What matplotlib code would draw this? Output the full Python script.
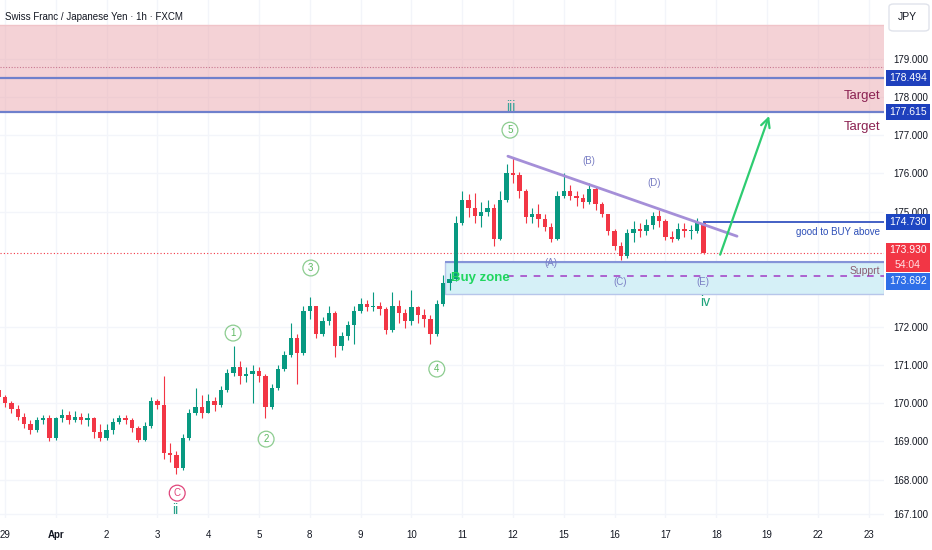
import matplotlib
matplotlib.use("Agg")
import matplotlib.pyplot as plt
import matplotlib.transforms as mtransforms
from matplotlib.patches import Rectangle, FancyBboxPatch
import numpy as np

plt.rcParams['font.family'] = ['Liberation Sans', 'DejaVu Sans']

### DATA ###
day_labels = ["29", "Apr", "2", "3", "4", "5", "8", "9", "10", "11", "12",
              "15", "16", "17", "18", "19", "22", "23"]
price_ticks = [167.1, 168, 169, 170, 171, 172, 175, 176, 177, 178, 179]

# 3-hour bars, x in trading days from Mar 29
bar_step = 0.125
start_day = -0.125
first_open = 170.35
closes = [170.15, 170.00, 169.85, 169.65, 169.45, 169.30, 169.55, 169.60, 169.10, 169.60,
          169.70, 169.55, 169.65, 169.55, 169.60, 169.25, 169.10, 169.30, 169.50, 169.60,
          169.55, 169.35, 169.05, 169.40, 170.05, 169.95, 168.70, 168.65, 168.30, 169.10,
          169.75, 169.90, 169.75, 170.05, 169.95, 170.35, 170.80, 170.95, 170.70, 170.75,
          170.85, 170.70, 169.90, 170.40, 170.90, 171.25, 171.70, 171.30, 172.40, 172.55,
          171.80, 172.15, 172.35, 171.50, 171.75, 172.05, 172.40, 172.60, 172.50, 172.55,
          172.45, 171.90, 172.55, 172.35, 172.15, 172.50, 172.30, 172.20, 171.80, 172.60,
          173.15, 173.25, 174.70, 175.30, 175.10, 174.90, 175.00, 175.10, 174.30, 175.30,
          176.00, 175.95, 175.55, 174.85, 174.95, 174.80, 174.60, 174.30, 175.40, 175.55,
          175.40, 175.35, 175.25, 175.60, 175.20, 174.95, 174.50, 174.10, 173.85, 174.45,
          174.55, 174.50, 174.65, 174.90, 174.75, 174.35, 174.30, 174.55, 174.50, 174.50,
          174.70, 173.93]
highs = [170.40, 170.20, 170.05, 169.95, 169.75, 169.55, 169.65, 169.70, 169.70, 169.65,
         169.85, 169.80, 169.80, 169.75, 169.75, 169.65, 169.45, 169.45, 169.60, 169.70,
         169.68, 169.62, 169.40, 169.50, 170.15, 170.10, 170.70, 168.95, 168.75, 169.20,
         169.85, 170.40, 170.20, 170.25, 170.15, 170.45, 170.90, 171.50, 171.10, 170.95,
         171.00, 170.95, 170.75, 170.50, 171.00, 171.35, 172.10, 171.80, 172.55, 172.78,
         172.55, 172.25, 172.55, 172.40, 171.85, 172.15, 172.55, 172.75, 172.70, 172.90,
         172.65, 172.50, 172.90, 172.70, 172.45, 172.95, 172.55, 172.45, 172.30, 172.70,
         173.35, 173.40, 174.90, 175.55, 175.45, 175.50, 175.25, 175.30, 175.20, 175.55,
         176.25, 176.43, 176.05, 175.60, 175.10, 175.20, 174.95, 174.70, 175.55, 176.00,
         175.70, 175.55, 175.45, 175.75, 175.65, 175.25, 174.95, 174.55, 174.20, 174.55,
         174.75, 174.70, 174.80, 175.00, 175.05, 174.80, 174.50, 174.70, 174.70, 174.65,
         174.84, 174.75]
lows = [170.05, 169.90, 169.75, 169.55, 169.35, 169.20, 169.25, 169.45, 169.00, 169.05,
        169.50, 169.45, 169.50, 169.45, 169.40, 169.10, 169.00, 169.05, 169.20, 169.45,
        169.45, 169.25, 168.98, 169.00, 169.35, 169.85, 168.55, 168.45, 168.15, 168.25,
        169.05, 169.70, 169.60, 169.75, 169.80, 169.90, 170.30, 170.70, 170.50, 170.55,
        170.00, 170.55, 169.62, 169.85, 170.35, 170.85, 171.20, 170.50, 171.25, 172.20,
        171.70, 171.75, 172.05, 171.20, 171.40, 171.65, 171.55, 172.35, 172.40, 172.40,
        172.30, 171.80, 171.85, 172.10, 171.95, 172.05, 172.10, 172.00, 171.55, 171.75,
        172.55, 172.95, 173.20, 174.65, 174.85, 174.70, 174.60, 174.90, 174.10, 174.25,
        175.25, 175.75, 175.35, 174.70, 174.70, 174.60, 174.50, 174.20, 174.25, 175.35,
        175.30, 175.15, 175.10, 175.20, 175.05, 174.85, 174.40, 174.00, 173.75, 173.80,
        174.20, 174.35, 174.40, 174.55, 174.60, 174.25, 174.20, 174.25, 174.35, 174.30,
        174.45, 173.90]

target_levels = [178.494, 177.615]
sell_zone = (177.615, 179.87)
sell_zone_mid = 178.78
buy_level = 174.730
last_price = 173.930
countdown = "54:04"
buy_zone = (172.85, 173.692)
support_level = 173.32
trend_line = ([9.90, 14.41], [176.45, 174.36])
arrow_from = (14.06, 173.81)
arrow_to = (15.06, 177.57)

wave_circles = [("1", 4.49, 171.83), ("2", 5.14, 169.06), ("3", 6.02, 173.53),
                ("4", 8.50, 170.89), ("5", 9.94, 177.13)]
abc_labels = [("(A)", 10.75, 173.66), ("(B)", 11.50, 176.32), ("(C)", 12.11, 173.16),
              ("(D)", 12.78, 175.75), ("(E)", 13.74, 173.16)]

### COLORS ###
up_col = '#089981'
down_col = '#f23645'
grid_col = '#f3f5fa'
text_col = '#131722'

fig = plt.figure(figsize=(9.32, 5.5), dpi=100)
ax = fig.add_axes([0, 32 / 550, 884 / 932, 518 / 550])
x_right = 879 / 50.8
ax.set_xlim(-5 / 50.8, x_right)
ax.set_ylim(167.0, 180.53)
for s in ax.spines.values():
    s.set_visible(False)

# grid / axes
ax.set_xticks(range(len(day_labels)))
ax.set_xticklabels(day_labels)
ax.set_yticks(price_ticks)
ax.set_yticklabels(["%.3f" % p for p in price_ticks])
ax.yaxis.tick_right()
ax.grid(True, color=grid_col, lw=1, zorder=0)
ax.set_axisbelow(True)
ax.tick_params(axis='both', length=0, colors=text_col, labelsize=7)
ax.tick_params(axis='y', pad=7)
ax.tick_params(axis='x', pad=9)
for lab in ax.get_xticklabels():
    if lab.get_text() == "Apr":
        lab.set_fontweight('bold')

# sell / target zone
ax.axhspan(sell_zone[0], sell_zone[1], color='#eba6ae', alpha=0.5, lw=0, zorder=1)
ax.axhline(sell_zone[1], color='#f0c4c9', lw=1, zorder=1)
ax.axhline(sell_zone_mid, color='#c87890', ls=(0, (1, 1.5)), lw=0.8, zorder=2)
for lvl in target_levels:
    ax.axhline(lvl, color='#6f80cc', lw=1.6, zorder=5)
ax.text(17.23, 178.02, "Target", color='#8b2252', fontsize=9.5, ha='right', va='center', zorder=6)
ax.text(17.23, 177.21, "Target", color='#8b2252', fontsize=9.5, ha='right', va='center', zorder=6)

# buy zone
bz = Rectangle((8.66, buy_zone[0]), x_right - 8.66, buy_zone[1] - buy_zone[0],
               fc='#d5f0f7', ec='#b7c6ea', lw=1, zorder=1.5)
ax.add_patch(bz)
ax.hlines(buy_zone[1], 8.66, x_right, color='#8594d8', lw=1.5, zorder=2)
ax.hlines(support_level, 9.88, x_right, color='#a64ac9', ls=(0, (4, 4)), lw=1.2, zorder=2)
ax.text(8.78, 173.27, "Buy zone", color='#1fd65f', fontsize=9.5, fontweight='bold',
        ha='left', va='center', zorder=6)
ax.text(17.225, 173.45, "Supprt", color='#8a5c70', fontsize=7.5, ha='right', va='center', zorder=6)

# last price and buy trigger
ax.axhline(last_price, color=down_col, ls=(0, (1, 2)), lw=0.8, zorder=2)
ax.hlines(buy_level, 13.74, x_right, color='#3554c0', lw=1.3, zorder=5)
ax.text(17.225, 174.47, "good to BUY above", color='#2d4fb8', fontsize=7,
        ha='right', va='center', zorder=6)

# candles
c = np.array(closes)
o = np.array([first_open] + closes[:-1])
h = np.array(highs)
l = np.array(lows)
t = start_day + bar_step * np.arange(len(c))
cols = np.where(c >= o, up_col, down_col)
ax.vlines(t, l, h, colors=cols, lw=0.8, zorder=3)
body = np.maximum(np.abs(c - o), 0.03)
ax.bar(t, body, bottom=np.minimum(o, c), width=0.085, color=cols, lw=0, zorder=4)

# triangle upper line and projection arrow
ax.plot(trend_line[0], trend_line[1], color='#a58fd8', lw=2, zorder=5, solid_capstyle='round')
ax.annotate('', xy=arrow_to, xytext=arrow_from,
            arrowprops=dict(arrowstyle='->', color='#2ecc71', lw=1.6, mutation_scale=16),
            zorder=6)

# wave labels
for txt, x, y in wave_circles:
    ax.text(x, y, txt, color='#5cb860', fontsize=7, ha='center', va='center', zorder=6,
            bbox=dict(boxstyle='circle,pad=0.3', fc='none', ec='#8ccc8f', lw=0.9))
ax.text(3.39, 167.65, "C", color='#e0457b', fontsize=7, ha='center', va='center', zorder=6,
        bbox=dict(boxstyle='circle,pad=0.3', fc='none', ec='#e0457b', lw=0.9))
ax.text(3.35, 167.21, "ii", color='#2aa189', fontsize=10, ha='center', va='center', zorder=6)
ax.text(9.96, 177.73, "iii", color='#3aa39a', fontsize=10, ha='center', va='center', zorder=6)
ax.text(13.78, 172.64, "iv", color='#1ea37a', fontsize=10, ha='center', va='center', zorder=6)
for txt, x, y in abc_labels:
    ax.text(x, y, txt, color='#7a7fc4', fontsize=7, ha='center', va='center', zorder=6)

# price-scale badges
btrans = mtransforms.blended_transform_factory(ax.transAxes, ax.transData)
px = 38.29  # pixels per yen


def badge(center, lines, fc, hpx=16):
    x0 = 886 / 884
    w = 44 / 884
    hh = hpx / px
    ax.add_patch(Rectangle((x0, center - hh / 2), w, hh, transform=btrans, fc=fc, ec='none',
                           clip_on=False, zorder=20))
    n = len(lines)
    for i, (s, col) in enumerate(lines):
        yy = center + hh / 2 - (i + 0.5) * hh / n
        ax.text(x0 + w / 2, yy, s, transform=btrans, color=col, fontsize=7.5, ha='center',
                va='center', clip_on=False, zorder=21)


badge(target_levels[0], [("%.3f" % target_levels[0], 'white')], '#1e40bd')
badge(target_levels[1], [("%.3f" % target_levels[1], 'white')], '#1e40bd')
badge(buy_level, [("%.3f" % buy_level, 'white')], '#1d46c2')
badge(173.80, [("%.3f" % last_price, 'white'), (countdown, '#ffe0e3')], down_col, hpx=29)
badge(173.18, [("%.3f" % buy_zone[1], 'white')], '#2f6fe8', hpx=17)

# header
fig.text(5 / 932, 1 - 17 / 550, "Swiss Franc / Japanese Yen · 1h · FXCM", fontsize=7,
         color=text_col, ha='left', va='center')
fig.patches.append(FancyBboxPatch((889 / 932, 1 - 31 / 550), 40 / 932, 27 / 550,
                                  boxstyle='round,pad=0,rounding_size=0.005',
                                  transform=fig.transFigure, fc='white', ec='#e0e3eb', lw=1))
fig.text(907 / 932, 1 - 17 / 550, "JPY", fontsize=7.5, color=text_col, ha='center', va='center')

fig.savefig("out.png", dpi=100)
